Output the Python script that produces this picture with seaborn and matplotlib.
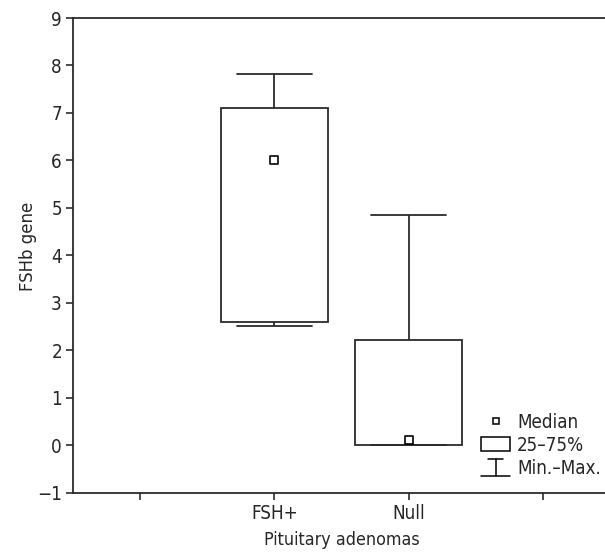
import numpy as np
import pandas as pd
import matplotlib
matplotlib.use("Agg")
import matplotlib.pyplot as plt
import seaborn as sns
from matplotlib.lines import Line2D
from matplotlib.patches import Patch
from matplotlib.legend_handler import HandlerBase

# ---- data ----
groups = ["FSH+", "Null"]
minimum = [2.51, 0.00]
q1 = [2.60, 0.00]
median = [6.00, 0.10]
q3 = [7.11, 2.22]
maximum = [7.83, 4.86]
xlabel = "Pituitary adenomas"
ylabel = "FSHb gene"
legend_labels = ["Median", "25\u201375%", "Min.\u2013Max."]

# five-number summary -> values whose quantiles reproduce it
rows = []
for g, a, b, c, d, e in zip(groups, minimum, q1, median, q3, maximum):
    for v in (a, b, c, d, e):
        rows.append({"group": g, "value": v})
df = pd.DataFrame(rows)
med_df = pd.DataFrame({"group": groups, "value": median})

sns.set_theme(style="white")
plt.rcParams["font.family"] = ["DejaVu Sans"]
plt.rcParams["font.stretch"] = "condensed"
plt.rcParams["axes.unicode_minus"] = True

FS = 13.5
fig = plt.figure(figsize=(6.05, 5.52), dpi=100)
ax = fig.add_axes([73 / 605, 59.3 / 552, 537 / 605, 474.7 / 552])

line_c = "#2b2b2b"
sns.boxplot(data=df, x="group", y="value", order=groups, whis=(0, 100),
            width=0.8, color="white", linecolor=line_c, linewidth=1.3,
            capwidths=0.56, showfliers=False,
            medianprops={"linewidth": 0, "alpha": 0},
            ax=ax)
sns.stripplot(data=med_df, x="group", y="value", order=groups, jitter=False,
              marker="s", size=5.6, color="white", edgecolor="black",
              linewidth=1.2, ax=ax, zorder=5)

ax.set_xlim(-1.5, 2.5)
ax.set_ylim(-1, 9)
ax.set_xticks([-1, 0, 1, 2])
ax.set_xticklabels(["", "FSH+", "Null", ""])
ax.set_yticks(range(-1, 10))
ax.set_xlabel(xlabel, fontsize=12.8, labelpad=6)
ax.set_ylabel(ylabel, fontsize=13.2)
ax.yaxis.set_label_coords(-0.067, 0.518)
ax.tick_params(axis="both", which="both", direction="out", length=5,
               width=1.2, color=line_c, labelsize=FS, pad=3,
               bottom=True, left=True)
for side in ["left", "bottom", "top"]:
    ax.spines[side].set_visible(True)
    ax.spines[side].set_color(line_c)
    ax.spines[side].set_linewidth(1.3)
ax.spines["right"].set_visible(False)
ax.grid(False)


class CapHandler(HandlerBase):
    def create_artists(self, legend, orig_handle, xdescent, ydescent,
                       width, height, fontsize, trans):
        cx = width / 2 - xdescent
        y0 = -ydescent - 1
        y1 = height - ydescent + 1
        lines = [
            Line2D([cx - width * 0.26, cx + width * 0.26], [y1, y1]),
            Line2D([cx, cx], [y0, y1]),
            Line2D([-xdescent, width - xdescent], [y0, y0]),
        ]
        for ln in lines:
            ln.set_color("black")
            ln.set_linewidth(1.1)
            ln.set_transform(trans)
        return lines


h_med = Line2D([], [], linestyle="none", marker="s", markersize=5,
               markerfacecolor="white", markeredgecolor="black",
               markeredgewidth=1.1)
h_box = Patch(facecolor="white", edgecolor="black", linewidth=1.1)
h_cap = Line2D([], [], color="black")
leg = fig.legend([h_med, h_box, h_cap], legend_labels,
                 handler_map={h_cap: CapHandler()},
                 loc="upper left", bbox_to_anchor=(481 / 605, (552 - 412.5) / 552),
                 frameon=False, fontsize=FS, handlelength=1.55,
                 handleheight=0.8, handletextpad=0.37, labelspacing=0.22,
                 borderpad=0, borderaxespad=0)

fig.savefig("out.png", dpi=100)
